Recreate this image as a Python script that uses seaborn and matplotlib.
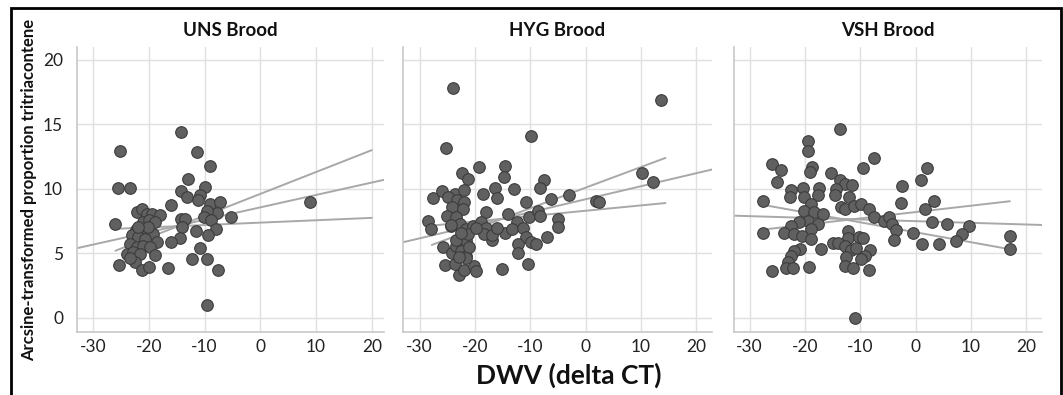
import matplotlib
matplotlib.use("Agg")
import matplotlib.pyplot as plt
import seaborn as sns
import pandas as pd
from matplotlib.patches import Rectangle

# ---- data ----
panel_titles = ["UNS Brood", "HYG Brood", "VSH Brood"]

uns_x = [-25.1, -25.6, -23.4, -26.0, -25.3, -14.3, -11.4, -9.0, -12.9, -14.3, -13.1, -10.0,
         -10.8, -11.1, -9.0, -7.2, -16.1, -5.2, -7.8, -9.5, -10.1, -8.8, -8.0, -9.3, -11.6,
         -14.2, -13.6, -14.0, -14.5, -16.1, -10.8, -12.2, -9.5, -7.6, -16.6, -9.5, 8.86,
         -22.2, -21.2, -20.4, -19.5, -18.0, -21.0, -19.9, -18.9, -22.3, -21.3, -20.2, -19.2,
         -23.1, -21.9, -20.7, -18.6, -23.4, -22.2, -21.0, -19.8, -24.0, -22.8, -21.6, -18.9,
         -22.5, -23.3, -21.3, -19.9, -20.1, -21.9]
uns_y = [12.9, 10.05, 10.05, 7.3, 4.07, 14.4, 12.85, 11.8, 10.8, 9.8, 9.4, 10.15,
         9.5, 9.1, 8.86, 9.0, 8.78, 7.85, 8.1, 8.3, 7.8, 7.56, 6.9, 6.4, 6.7,
         7.64, 7.7, 7.05, 6.2, 5.9, 5.44, 4.53, 4.53, 3.73, 3.9, 0.96, 8.96,
         8.2, 8.47, 8.08, 8.08, 7.95, 7.43, 7.56, 7.43, 6.8, 6.5, 6.66, 6.5,
         6.4, 6.27, 6.14, 5.9, 5.75, 5.5, 5.6, 5.5, 4.97, 5.1, 4.97, 4.84,
         4.3, 4.6, 3.73, 3.94, 7.05, 7.05]

hyg_x = [-23.9, 13.6, -25.3, -9.9, 10.1, 12.2, -19.3, -14.5, -14.7, -22.3, -21.3, -16.4,
         -16.1, -13.0, -7.5, -8.3, -3.0, -6.2, 1.8, 2.4, -10.7, -18.6, -27.5, -26.0,
         -23.6, -21.9, -24.8, -23.2, -22.0, -24.2, -22.2, -25.1, -23.4, -28.4, -28.0, -24.3,
         -22.7, -21.6, -20.4, -18.0, -18.9, -18.0, -16.9, -18.4, -14.5, -14.0, -12.4, -13.3,
         -10.2, -8.6, -8.3, -5.1, -5.1, -11.4, -10.7, -9.8, -8.9, -7.0, -12.2, -12.3,
         -10.5, -15.1, -25.4, -23.6, -22.9, -22.0, -20.1, -19.8, -25.8, -24.1, -23.4, -22.5,
         -21.6, -21.6, -21.0, -23.4, -21.3, -22.5, -24.4, -19.8, -17.0, -16.1, -21.6, -22.8]
hyg_y = [17.8, 16.9, 13.2, 14.1, 11.2, 10.5, 11.7, 11.8, 10.9, 11.2, 10.8, 10.1,
         9.3, 10.0, 10.7, 10.1, 9.5, 9.2, 9.06, 8.95, 9.0, 9.6, 9.3, 9.8,
         9.6, 9.9, 9.4, 9.1, 9.0, 8.6, 8.4, 7.9, 7.8, 7.5, 6.9, 7.15,
         7.3, 6.9, 7.15, 8.2, 7.4, 7.0, 6.0, 6.5, 6.6, 8.05, 7.4, 6.9,
         7.85, 8.3, 7.9, 7.7, 7.07, 7.0, 6.25, 5.9, 5.7, 6.3, 5.7, 5.05,
         4.2, 3.8, 4.1, 4.2, 3.3, 3.7, 4.05, 3.6, 5.5, 5.06, 5.6, 5.2,
         4.8, 6.0, 5.5, 6.0, 6.5, 6.6, 7.2, 7.0, 6.4, 7.0, 4.6, 4.7]

vsh_x = [-13.7, -19.4, -19.4, -7.5, -9.5, -25.9, -24.3, -25.0, -18.7, -19.1, -15.2, -13.6,
         -12.7, -11.5, -14.3, -14.6, -12.0, 2.0, 1.0, -2.4, -2.6, 3.3, 1.7, -27.6,
         -27.6, -25.9, -22.6, -22.7, -20.4, -17.4, -20.1, -17.6, -18.9, -20.1, -18.3, -16.8,
         -19.5, -21.1, -17.7, -18.9, -22.6, -23.7, -22.0, -20.5, -18.9, -17.1, -20.8, -22.0,
         -22.6, -23.1, -23.5, -22.1, -19.3, -13.5, -12.7, -11.1, -9.9, -8.4, -7.6, -5.7,
         -4.8, -4.2, -3.6, -0.4, 3.0, 5.6, 9.7, 8.4, 7.2, 4.2, 1.1, -3.9,
         17.1, 17.0, -12.3, -12.2, -10.2, -9.5, -14.9, -14.0, -12.8, -11.6, -10.7, -8.3,
         -9.2, -9.9, -12.5, -12.8, -11.3, -8.4, -10.9]
vsh_y = [14.65, 13.7, 12.9, 12.4, 11.6, 11.9, 11.5, 10.5, 11.7, 11.3, 11.2, 10.65,
         10.4, 10.3, 10.0, 9.56, 9.4, 11.6, 10.65, 10.2, 8.9, 9.06, 8.44, 9.04,
         6.6, 3.6, 9.9, 9.35, 10.1, 10.1, 9.4, 9.56, 8.83, 8.3, 8.2, 8.05,
         7.5, 7.4, 7.27, 6.9, 7.1, 6.55, 6.5, 6.36, 6.1, 5.3, 5.3, 5.2,
         4.8, 4.3, 3.9, 3.9, 3.95, 8.6, 8.44, 8.7, 8.83, 8.44, 7.8, 7.5,
         7.8, 7.27, 6.8, 6.6, 7.45, 7.3, 7.1, 6.5, 5.95, 5.7, 5.7, 6.0,
         6.36, 5.3, 6.75, 6.2, 6.3, 6.2, 5.8, 5.8, 5.6, 5.25, 5.45, 5.25,
         4.8, 4.55, 4.7, 4.0, 3.85, 3.7, 0.0]

# fit line (whole axis) and the two band lines, endpoints
fit_x = [[-32.9, 22.2], [-33.0, 22.8], [-32.8, 22.8]]
fit_y = [[5.40, 10.70], [5.86, 11.50], [7.92, 7.20]]
band_x = [[-26.0, 20.0], [-27.8, 14.4], [-26.8, 17.0]]
band_a = [[5.20, 13.00], [5.65, 12.40], [8.70, 5.32]]
band_b = [[6.90, 7.75], [7.15, 8.90], [6.88, 9.04]]

x_ticks = [-30, -20, -10, 0, 10, 20]
y_ticks = [0, 5, 10, 15, 20]

sns.set_style("whitegrid")
plt.rcParams["font.family"] = ["Lato", "DejaVu Sans"]
plt.rcParams["axes.unicode_minus"] = False

W, H = 1063, 395
fig = plt.figure(figsize=(W / 100, H / 100), dpi=100)

# panel boxes in pixels: left, right, top, bottom
boxes = [(77, 384, 47, 332), (403, 712, 47, 332), (734, 1042, 47, 332)]
xlims = [(-32.9, 22.2), (-33.0, 22.8), (-32.8, 22.8)]

all_x = [uns_x, hyg_x, vsh_x]
all_y = [uns_y, hyg_y, vsh_y]

for i in range(3):
    l, r, t, b = boxes[i]
    ax = fig.add_axes([l / W, 1 - b / H, (r - l) / W, (b - t) / H])
    df = pd.DataFrame({"x": all_x[i], "y": all_y[i]})
    sns.scatterplot(data=df, x="x", y="y", ax=ax, s=70, color="#606060",
                    edgecolor="#3c3c3c", linewidth=0.8, zorder=3)
    for xs, ys in [(fit_x[i], fit_y[i]), (band_x[i], band_a[i]), (band_x[i], band_b[i])]:
        sns.lineplot(x=xs, y=ys, ax=ax, color="#a8a8a8", linewidth=1.4, zorder=2)
    ax.set_xlim(*xlims[i])
    ax.set_ylim(-1.1, 21.0)
    ax.set_xticks(x_ticks)
    ax.set_yticks(y_ticks)
    ax.grid(True, color="#e0e0e0", linewidth=1.0)
    ax.tick_params(axis="x", length=0, labelsize=12.5, colors="#222222", pad=5)
    ax.tick_params(axis="y", length=0, labelsize=12.5, colors="#222222", pad=10)
    for s in ["top", "right"]:
        ax.spines[s].set_visible(False)
    for s in ["left", "bottom"]:
        ax.spines[s].set_color("#c8c8c8")
        ax.spines[s].set_linewidth(1.2)
    ax.set_xlabel("")
    ax.set_ylabel("")
    if i > 0:
        ax.set_yticklabels([])
    ax.set_title(panel_titles[i], fontsize=13.5, fontweight="bold", pad=8, color="#111111")

fig.text(569 / W, 1 - 375 / H, "DWV (delta CT)", ha="center", va="center",
         fontsize=19, fontweight="bold", color="#111111")
fig.text(29 / W, 1 - 190 / H, "Arcsine-transformed proportion tritriacontene", ha="center",
         va="center", rotation=90, fontsize=12, fontweight="bold", color="#111111")

# black frame around the figure
fig.patches.append(Rectangle((11 / W, -0.05), (1061 - 11) / W, 1.05 - 8 / H,
                             transform=fig.transFigure, fill=False,
                             edgecolor="black", linewidth=2.0))

fig.savefig("out.png", dpi=100)
